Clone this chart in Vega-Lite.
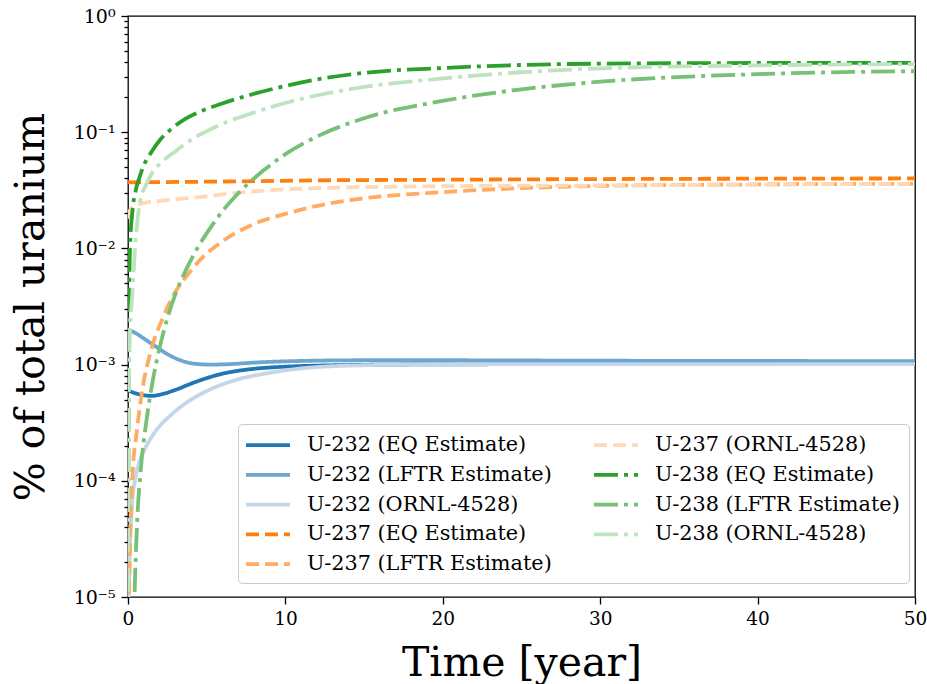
{
  "$schema": "https://vega.github.io/schema/vega-lite/v6.json",
  "width": 787,
  "height": 581,
  "autosize": {"type": "none"},
  "padding": {"left": 128, "top": 16, "right": 12, "bottom": 87},
  "background": "white",
  "datasets": {
    "pts": [
      {"s": "U-232 (EQ Estimate)", "t": 0, "v": 0.0006},
      {"s": "U-232 (EQ Estimate)", "t": 0.5, "v": 0.000565},
      {"s": "U-232 (EQ Estimate)", "t": 1, "v": 0.000545},
      {"s": "U-232 (EQ Estimate)", "t": 1.5, "v": 0.000538},
      {"s": "U-232 (EQ Estimate)", "t": 2, "v": 0.00055},
      {"s": "U-232 (EQ Estimate)", "t": 3, "v": 0.000605},
      {"s": "U-232 (EQ Estimate)", "t": 4, "v": 0.000685},
      {"s": "U-232 (EQ Estimate)", "t": 5, "v": 0.000765},
      {"s": "U-232 (EQ Estimate)", "t": 6, "v": 0.000835},
      {"s": "U-232 (EQ Estimate)", "t": 7, "v": 0.000885},
      {"s": "U-232 (EQ Estimate)", "t": 8, "v": 0.00092},
      {"s": "U-232 (EQ Estimate)", "t": 10, "v": 0.00096},
      {"s": "U-232 (EQ Estimate)", "t": 12, "v": 0.00098},
      {"s": "U-232 (EQ Estimate)", "t": 15, "v": 0.000995},
      {"s": "U-232 (EQ Estimate)", "t": 20, "v": 0.001005},
      {"s": "U-232 (EQ Estimate)", "t": 30, "v": 0.00101},
      {"s": "U-232 (EQ Estimate)", "t": 40, "v": 0.00101},
      {"s": "U-232 (EQ Estimate)", "t": 50, "v": 0.00101},

      {"s": "U-232 (LFTR Estimate)", "t": 0, "v": 0.002},
      {"s": "U-232 (LFTR Estimate)", "t": 0.5, "v": 0.00186},
      {"s": "U-232 (LFTR Estimate)", "t": 1, "v": 0.00168},
      {"s": "U-232 (LFTR Estimate)", "t": 1.6, "v": 0.00148},
      {"s": "U-232 (LFTR Estimate)", "t": 2, "v": 0.00136},
      {"s": "U-232 (LFTR Estimate)", "t": 2.7, "v": 0.00119},
      {"s": "U-232 (LFTR Estimate)", "t": 3.5, "v": 0.00107},
      {"s": "U-232 (LFTR Estimate)", "t": 4.3, "v": 0.001015},
      {"s": "U-232 (LFTR Estimate)", "t": 5.2, "v": 0.001},
      {"s": "U-232 (LFTR Estimate)", "t": 6.5, "v": 0.00101},
      {"s": "U-232 (LFTR Estimate)", "t": 8, "v": 0.00104},
      {"s": "U-232 (LFTR Estimate)", "t": 11, "v": 0.001075},
      {"s": "U-232 (LFTR Estimate)", "t": 15, "v": 0.00109},
      {"s": "U-232 (LFTR Estimate)", "t": 20, "v": 0.00109},
      {"s": "U-232 (LFTR Estimate)", "t": 30, "v": 0.00108},
      {"s": "U-232 (LFTR Estimate)", "t": 40, "v": 0.001075},
      {"s": "U-232 (LFTR Estimate)", "t": 50, "v": 0.00107},

      {"s": "U-232 (ORNL-4528)", "t": 0.01, "v": 0.000003},
      {"s": "U-232 (ORNL-4528)", "t": 0.05, "v": 0.00001},
      {"s": "U-232 (ORNL-4528)", "t": 0.1, "v": 0.00002},
      {"s": "U-232 (ORNL-4528)", "t": 0.25, "v": 0.00006},
      {"s": "U-232 (ORNL-4528)", "t": 0.5, "v": 0.00011},
      {"s": "U-232 (ORNL-4528)", "t": 0.76, "v": 0.00015},
      {"s": "U-232 (ORNL-4528)", "t": 1, "v": 0.00018},
      {"s": "U-232 (ORNL-4528)", "t": 1.3, "v": 0.000215},
      {"s": "U-232 (ORNL-4528)", "t": 1.6, "v": 0.00025},
      {"s": "U-232 (ORNL-4528)", "t": 2.1, "v": 0.000305},
      {"s": "U-232 (ORNL-4528)", "t": 2.7, "v": 0.000365},
      {"s": "U-232 (ORNL-4528)", "t": 3.7, "v": 0.00047},
      {"s": "U-232 (ORNL-4528)", "t": 4.6, "v": 0.000556},
      {"s": "U-232 (ORNL-4528)", "t": 5.2, "v": 0.00061},
      {"s": "U-232 (ORNL-4528)", "t": 6.9, "v": 0.00074},
      {"s": "U-232 (ORNL-4528)", "t": 9, "v": 0.00085},
      {"s": "U-232 (ORNL-4528)", "t": 11.1, "v": 0.00093},
      {"s": "U-232 (ORNL-4528)", "t": 14, "v": 0.00098},
      {"s": "U-232 (ORNL-4528)", "t": 18, "v": 0.001},
      {"s": "U-232 (ORNL-4528)", "t": 25, "v": 0.00101},
      {"s": "U-232 (ORNL-4528)", "t": 50, "v": 0.00101},

      {"s": "U-237 (EQ Estimate)", "t": 0, "v": 0.037},
      {"s": "U-237 (EQ Estimate)", "t": 5, "v": 0.0375},
      {"s": "U-237 (EQ Estimate)", "t": 12, "v": 0.0385},
      {"s": "U-237 (EQ Estimate)", "t": 20, "v": 0.039},
      {"s": "U-237 (EQ Estimate)", "t": 30, "v": 0.0395},
      {"s": "U-237 (EQ Estimate)", "t": 50, "v": 0.04},

      {"s": "U-237 (LFTR Estimate)", "t": 0.03, "v": 0.000005},
      {"s": "U-237 (LFTR Estimate)", "t": 0.13, "v": 0.00003},
      {"s": "U-237 (LFTR Estimate)", "t": 0.3, "v": 0.00012},
      {"s": "U-237 (LFTR Estimate)", "t": 0.55, "v": 0.00026},
      {"s": "U-237 (LFTR Estimate)", "t": 0.87, "v": 0.00056},
      {"s": "U-237 (LFTR Estimate)", "t": 1.5, "v": 0.00138},
      {"s": "U-237 (LFTR Estimate)", "t": 2.2, "v": 0.0025},
      {"s": "U-237 (LFTR Estimate)", "t": 3, "v": 0.0042},
      {"s": "U-237 (LFTR Estimate)", "t": 3.9, "v": 0.0062},
      {"s": "U-237 (LFTR Estimate)", "t": 4.6, "v": 0.008},
      {"s": "U-237 (LFTR Estimate)", "t": 5.8, "v": 0.011},
      {"s": "U-237 (LFTR Estimate)", "t": 7.9, "v": 0.016},
      {"s": "U-237 (LFTR Estimate)", "t": 10.1, "v": 0.02},
      {"s": "U-237 (LFTR Estimate)", "t": 12.2, "v": 0.0235},
      {"s": "U-237 (LFTR Estimate)", "t": 15, "v": 0.027},
      {"s": "U-237 (LFTR Estimate)", "t": 20, "v": 0.0305},
      {"s": "U-237 (LFTR Estimate)", "t": 25, "v": 0.033},
      {"s": "U-237 (LFTR Estimate)", "t": 30, "v": 0.0345},
      {"s": "U-237 (LFTR Estimate)", "t": 40, "v": 0.0355},
      {"s": "U-237 (LFTR Estimate)", "t": 50, "v": 0.036},

      {"s": "U-237 (ORNL-4528)", "t": 0, "v": 0.018},
      {"s": "U-237 (ORNL-4528)", "t": 0.1, "v": 0.021},
      {"s": "U-237 (ORNL-4528)", "t": 0.5, "v": 0.0235},
      {"s": "U-237 (ORNL-4528)", "t": 1, "v": 0.0245},
      {"s": "U-237 (ORNL-4528)", "t": 2, "v": 0.0256},
      {"s": "U-237 (ORNL-4528)", "t": 4, "v": 0.0272},
      {"s": "U-237 (ORNL-4528)", "t": 8, "v": 0.031},
      {"s": "U-237 (ORNL-4528)", "t": 12, "v": 0.033},
      {"s": "U-237 (ORNL-4528)", "t": 20, "v": 0.0343},
      {"s": "U-237 (ORNL-4528)", "t": 30, "v": 0.0348},
      {"s": "U-237 (ORNL-4528)", "t": 50, "v": 0.036},

      {"s": "U-238 (EQ Estimate)", "t": 0, "v": 0.000005},
      {"s": "U-238 (EQ Estimate)", "t": 0.03, "v": 0.0003},
      {"s": "U-238 (EQ Estimate)", "t": 0.07, "v": 0.003},
      {"s": "U-238 (EQ Estimate)", "t": 0.13, "v": 0.0103},
      {"s": "U-238 (EQ Estimate)", "t": 0.3, "v": 0.022},
      {"s": "U-238 (EQ Estimate)", "t": 0.5, "v": 0.032},
      {"s": "U-238 (EQ Estimate)", "t": 0.76, "v": 0.042},
      {"s": "U-238 (EQ Estimate)", "t": 0.97, "v": 0.0505},
      {"s": "U-238 (EQ Estimate)", "t": 1.5, "v": 0.068},
      {"s": "U-238 (EQ Estimate)", "t": 2.03, "v": 0.0857},
      {"s": "U-238 (EQ Estimate)", "t": 2.8, "v": 0.108},
      {"s": "U-238 (EQ Estimate)", "t": 3.72, "v": 0.132},
      {"s": "U-238 (EQ Estimate)", "t": 4.7, "v": 0.153},
      {"s": "U-238 (EQ Estimate)", "t": 5.84, "v": 0.174},
      {"s": "U-238 (EQ Estimate)", "t": 7.95, "v": 0.213},
      {"s": "U-238 (EQ Estimate)", "t": 10.07, "v": 0.251},
      {"s": "U-238 (EQ Estimate)", "t": 12.18, "v": 0.287},
      {"s": "U-238 (EQ Estimate)", "t": 15, "v": 0.324},
      {"s": "U-238 (EQ Estimate)", "t": 20, "v": 0.357},
      {"s": "U-238 (EQ Estimate)", "t": 25, "v": 0.379},
      {"s": "U-238 (EQ Estimate)", "t": 30, "v": 0.389},
      {"s": "U-238 (EQ Estimate)", "t": 40, "v": 0.394},
      {"s": "U-238 (EQ Estimate)", "t": 50, "v": 0.395},

      {"s": "U-238 (LFTR Estimate)", "t": 0.35, "v": 0.000005},
      {"s": "U-238 (LFTR Estimate)", "t": 0.45, "v": 0.000015},
      {"s": "U-238 (LFTR Estimate)", "t": 0.6, "v": 0.00005},
      {"s": "U-238 (LFTR Estimate)", "t": 0.8, "v": 0.00012},
      {"s": "U-238 (LFTR Estimate)", "t": 1.2, "v": 0.00035},
      {"s": "U-238 (LFTR Estimate)", "t": 1.6, "v": 0.00076},
      {"s": "U-238 (LFTR Estimate)", "t": 2, "v": 0.00138},
      {"s": "U-238 (LFTR Estimate)", "t": 2.5, "v": 0.0025},
      {"s": "U-238 (LFTR Estimate)", "t": 3, "v": 0.004},
      {"s": "U-238 (LFTR Estimate)", "t": 3.7, "v": 0.0066},
      {"s": "U-238 (LFTR Estimate)", "t": 4.4, "v": 0.01},
      {"s": "U-238 (LFTR Estimate)", "t": 5.2, "v": 0.0148},
      {"s": "U-238 (LFTR Estimate)", "t": 6, "v": 0.0209},
      {"s": "U-238 (LFTR Estimate)", "t": 6.9, "v": 0.0288},
      {"s": "U-238 (LFTR Estimate)", "t": 7.9, "v": 0.0389},
      {"s": "U-238 (LFTR Estimate)", "t": 8.6, "v": 0.0468},
      {"s": "U-238 (LFTR Estimate)", "t": 10.1, "v": 0.066},
      {"s": "U-238 (LFTR Estimate)", "t": 12.2, "v": 0.0944},
      {"s": "U-238 (LFTR Estimate)", "t": 15, "v": 0.132},
      {"s": "U-238 (LFTR Estimate)", "t": 20, "v": 0.186},
      {"s": "U-238 (LFTR Estimate)", "t": 25, "v": 0.234},
      {"s": "U-238 (LFTR Estimate)", "t": 30, "v": 0.272},
      {"s": "U-238 (LFTR Estimate)", "t": 40, "v": 0.316},
      {"s": "U-238 (LFTR Estimate)", "t": 50, "v": 0.335},

      {"s": "U-238 (ORNL-4528)", "t": 0, "v": 0.000005},
      {"s": "U-238 (ORNL-4528)", "t": 0.03, "v": 0.0001},
      {"s": "U-238 (ORNL-4528)", "t": 0.06, "v": 0.0006},
      {"s": "U-238 (ORNL-4528)", "t": 0.13, "v": 0.002},
      {"s": "U-238 (ORNL-4528)", "t": 0.25, "v": 0.0036},
      {"s": "U-238 (ORNL-4528)", "t": 0.44, "v": 0.0097},
      {"s": "U-238 (ORNL-4528)", "t": 0.76, "v": 0.025},
      {"s": "U-238 (ORNL-4528)", "t": 1.18, "v": 0.036},
      {"s": "U-238 (ORNL-4528)", "t": 1.6, "v": 0.046},
      {"s": "U-238 (ORNL-4528)", "t": 2, "v": 0.053},
      {"s": "U-238 (ORNL-4528)", "t": 3.1, "v": 0.07},
      {"s": "U-238 (ORNL-4528)", "t": 3.7, "v": 0.0805},
      {"s": "U-238 (ORNL-4528)", "t": 5.8, "v": 0.115},
      {"s": "U-238 (ORNL-4528)", "t": 7.9, "v": 0.146},
      {"s": "U-238 (ORNL-4528)", "t": 10.1, "v": 0.18},
      {"s": "U-238 (ORNL-4528)", "t": 12.2, "v": 0.21},
      {"s": "U-238 (ORNL-4528)", "t": 15, "v": 0.245},
      {"s": "U-238 (ORNL-4528)", "t": 20, "v": 0.29},
      {"s": "U-238 (ORNL-4528)", "t": 25, "v": 0.328},
      {"s": "U-238 (ORNL-4528)", "t": 30, "v": 0.354},
      {"s": "U-238 (ORNL-4528)", "t": 40, "v": 0.376},
      {"s": "U-238 (ORNL-4528)", "t": 50, "v": 0.386}
    ]
  },
  "data": {"name": "pts"},
  "mark": {"type": "line", "clip": true, "strokeWidth": 3.8, "interpolate": "monotone"},
  "encoding": {
    "x": {
      "field": "t", "type": "quantitative",
      "scale": {"domain": [0, 50], "nice": false, "zero": false},
      "axis": {
        "title": "Time [year]",
        "values": [0, 10, 20, 30, 40, 50],
        "format": "d",
        "grid": false, "domain": false,
        "tickColor": "black", "tickWidth": 1.3, "tickSize": 7,
        "labelFont": "DejaVu Serif", "labelFontSize": 18.5, "labelColor": "black",
        "labelPadding": 5, "labelFlush": false, "labelOverlap": false,
        "titleFont": "DejaVu Serif", "titleFontSize": 41, "titleFontWeight": "normal",
        "titleColor": "black", "titleBaseline": "alphabetic", "titleY": 78
      }
    },
    "y": {
      "field": "v", "type": "quantitative",
      "scale": {"type": "log", "domain": [0.00001, 1], "nice": false},
      "axis": {
        "title": "% of total uranium",
        "values": [0.00001, 0.00002, 0.00003, 0.00004, 0.00005, 0.00006, 0.00007, 0.00008, 0.00009,
                   0.0001, 0.0002, 0.0003, 0.0004, 0.0005, 0.0006, 0.0007, 0.0008, 0.0009,
                   0.001, 0.002, 0.003, 0.004, 0.005, 0.006, 0.007, 0.008, 0.009,
                   0.01, 0.02, 0.03, 0.04, 0.05, 0.06, 0.07, 0.08, 0.09,
                   0.1, 0.2, 0.3, 0.4, 0.5, 0.6, 0.7, 0.8, 0.9, 1],
        "labelExpr": "abs(log(datum.value)/LN10 - round(log(datum.value)/LN10)) > 0.001 ? '' : ['10⁻⁵','10⁻⁴','10⁻³','10⁻²','10⁻¹','10⁰'][round(log(datum.value)/LN10)+5]",
        "grid": false, "domain": false,
        "tickColor": "black", "tickWidth": 1.3,
        "tickSize": {"condition": {"test": "abs(log(datum.value)/LN10 - round(log(datum.value)/LN10)) < 0.001", "value": 7}, "value": 4},
        "labelFont": "DejaVu Serif", "labelFontSize": 19, "labelColor": "black",
        "labelPadding": 6, "labelFlush": false, "labelOverlap": false,
        "titleFont": "DejaVu Serif", "titleFontSize": 41, "titleFontWeight": "normal",
        "titleColor": "black", "titleBaseline": "alphabetic", "titleX": -85, "titleY": 290.5, "titleAngle": 270
      }
    },
    "color": {
      "field": "s", "type": "nominal",
      "scale": {
        "domain": ["U-232 (EQ Estimate)", "U-232 (LFTR Estimate)", "U-232 (ORNL-4528)", "U-237 (EQ Estimate)", "U-237 (LFTR Estimate)", "U-237 (ORNL-4528)", "U-238 (EQ Estimate)", "U-238 (LFTR Estimate)", "U-238 (ORNL-4528)"],
        "range": ["#1f77b4", "#6da6ce", "#c4d6e8", "#ff7f0e", "#ffac62", "#ffd9b7", "#2ca02c", "#76c176", "#bfe3bf"]
      },
      "legend": {
        "title": null, "orient": "none", "legendX": 110, "legendY": 408,
        "columns": 2,
        "symbolType": "M-2.2,0H2.2", "symbolSize": 400, "symbolStrokeWidth": 3.8, "symbolOffset": 9,
        "labelOffset": 27,
        "labelFont": "DejaVu Serif", "labelFontSize": 20.8, "labelColor": "black", "labelLimit": 400,
        "rowPadding": 7.8, "columnPadding": 34, "padding": 9,
        "fillColor": "white", "strokeColor": "#cccccc", "cornerRadius": 4
      }
    },
    "strokeDash": {
      "field": "s", "type": "nominal",
      "scale": {
        "domain": ["U-232 (EQ Estimate)", "U-232 (LFTR Estimate)", "U-232 (ORNL-4528)", "U-237 (EQ Estimate)", "U-237 (LFTR Estimate)", "U-237 (ORNL-4528)", "U-238 (EQ Estimate)", "U-238 (LFTR Estimate)", "U-238 (ORNL-4528)"],
        "range": [[1, 0], [1, 0], [1, 0], [13, 6], [13, 6], [13, 6], [24, 6, 4, 6], [24, 6, 4, 6], [24, 6, 4, 6]]
      }
    }
  },
  "config": {
    "view": {"stroke": "black", "strokeWidth": 1.3},
    "font": "DejaVu Serif"
  }
}
